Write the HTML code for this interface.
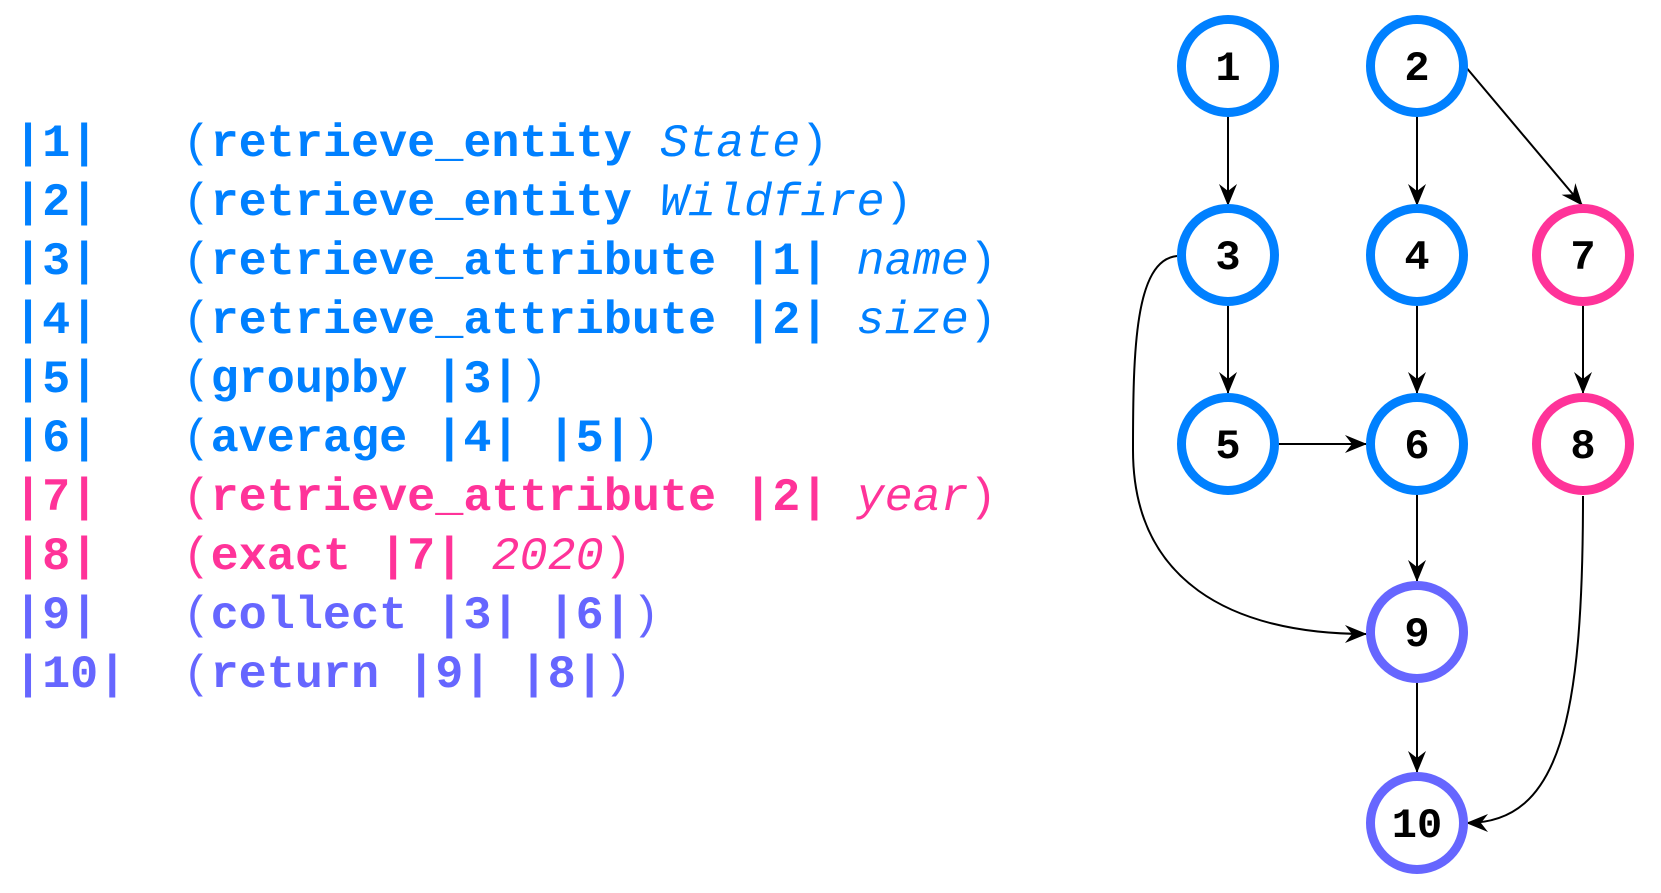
<!DOCTYPE html>
<html><head><meta charset="utf-8"><style>
body{margin:0;width:1661px;height:893px;background:#fff;overflow:hidden;position:relative}
.code{position:absolute;left:14px;top:2px;font-family:"Liberation Mono",monospace;font-size:46.8px;white-space:pre;line-height:58.9px}
.l{position:absolute;left:0}
b{font-weight:bold}
i{font-style:italic;font-weight:normal}
.B{color:#0080ff}.P{color:#ff3399}.V{color:#6666ff}
</style></head><body>
<div class="code">
<div class="l B" style="top:114px"><b>|1|</b>   (<b>retrieve_entity</b> <i>State</i>)</div>
<div class="l B" style="top:173px"><b>|2|</b>   (<b>retrieve_entity</b> <i>Wildfire</i>)</div>
<div class="l B" style="top:232px"><b>|3|</b>   (<b>retrieve_attribute |1|</b> <i>name</i>)</div>
<div class="l B" style="top:291px"><b>|4|</b>   (<b>retrieve_attribute |2|</b> <i>size</i>)</div>
<div class="l B" style="top:350px"><b>|5|</b>   (<b>groupby |3|</b>)</div>
<div class="l B" style="top:409px"><b>|6|</b>   (<b>average |4| |5|</b>)</div>
<div class="l P" style="top:468px"><b>|7|</b>   (<b>retrieve_attribute |2|</b> <i>year</i>)</div>
<div class="l P" style="top:527px"><b>|8|</b>   (<b>exact |7|</b> <i>2020</i>)</div>
<div class="l V" style="top:586px"><b>|9|</b>   (<b>collect |3| |6|</b>)</div>
<div class="l V" style="top:645px"><b>|10|</b>  (<b>return |9| |8|</b>)</div>
</div>
<svg width="1661" height="893" style="position:absolute;left:0;top:0">
<defs><marker id="a" markerWidth="22" markerHeight="18" refX="21" refY="9" orient="auto" markerUnits="userSpaceOnUse"><path d="M0,0 L22,9 L0,18 L7,9 z" fill="#000"/></marker></defs>
<g stroke="#000" stroke-width="2" fill="none" marker-end="url(#a)">
<line x1="1228" y1="115" x2="1228" y2="205"/>
<line x1="1417" y1="115" x2="1417" y2="205"/>
<line x1="1465" y1="66" x2="1582" y2="205"/>
<line x1="1228" y1="305" x2="1228" y2="393"/>
<line x1="1417" y1="305" x2="1417" y2="393"/>
<line x1="1583" y1="305" x2="1583" y2="393"/>
<line x1="1278" y1="444" x2="1366" y2="444"/>
<line x1="1417" y1="494" x2="1417" y2="581"/>
<line x1="1417" y1="682" x2="1417" y2="772"/>
<path d="M1177,256 C1135,260 1133,350 1133,450 C1133,580 1230,634 1366,634"/>
<path d="M1583,496 C1583,720 1560,823 1467,823"/>
</g>
<g stroke-width="9" fill="#fff">
<circle cx="1228" cy="66" r="46.5" stroke="#0080ff"/>
<circle cx="1417" cy="66" r="46.5" stroke="#0080ff"/>
<circle cx="1228" cy="255" r="46.5" stroke="#0080ff"/>
<circle cx="1417" cy="255" r="46.5" stroke="#0080ff"/>
<circle cx="1583" cy="255" r="46.5" stroke="#ff3399"/>
<circle cx="1228" cy="444" r="46.5" stroke="#0080ff"/>
<circle cx="1417" cy="444" r="46.5" stroke="#0080ff"/>
<circle cx="1583" cy="444" r="46.5" stroke="#ff3399"/>
<circle cx="1417" cy="632" r="46.5" stroke="#6666ff"/>
<circle cx="1417" cy="823" r="46.5" stroke="#6666ff"/>
</g>
<g font-family="Liberation Mono, monospace" font-weight="bold" font-size="42" text-anchor="middle" fill="#000">
<text x="1228" y="80">1</text><text x="1417" y="80">2</text>
<text x="1228" y="269">3</text><text x="1417" y="269">4</text><text x="1583" y="269">7</text>
<text x="1228" y="458">5</text><text x="1417" y="458">6</text><text x="1583" y="458">8</text>
<text x="1417" y="646">9</text><text x="1417" y="837">10</text>
</g>
</svg>
</body></html>
